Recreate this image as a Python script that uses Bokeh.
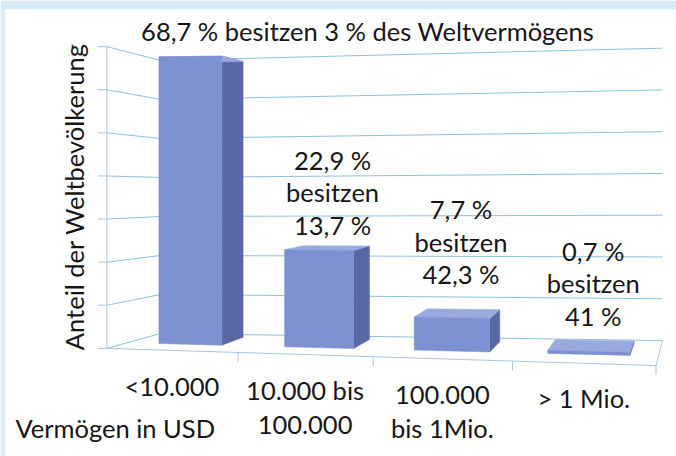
import math
from bokeh.plotting import figure
from bokeh.models import Range1d
from bokeh.core.properties import value
from bokeh.embed import file_html
from bokeh.resources import INLINE

# ---------------- data ----------------
categories = ["<10.000", "10.000 bis\n100.000", "100.000\nbis 1Mio.", "> 1 Mio."]
population_share = [68.7, 22.9, 7.7, 0.7]   # Anteil der Weltbevölkerung (%)
wealth_share = [3, 13.7, 42.3, 41]          # Anteil am Weltvermögen (%)
y_ticks = [0, 10, 20, 30, 40, 50, 60, 70]
y_axis_label = "Anteil der Weltbevölkerung"
x_axis_label = "Vermögen in USD"

# ---------------- styles / layout ----------------
FONT = "Lato"
FS = "25.5px"
TXT = "#161616"
FRONT_COL = "#7d90d1"
SIDE_COL = "#5968a5"
TOP_COL = "#9aa9de"
GRID_COL = "#8ec1dc"
FLOOR_COL = "#a9c6da"
BAND = "#d6ecf8"
LABEL_GAP_PX = [0, 7, 22, 12]   # distance of each data label above its bar

X_PER_PX = 1 / 128.0
Y_PER_PX = 1 / 4.31

# simple 3D (perspective-like) projection in data units:
# u = position across the floor (0..1), v = value, z = depth (0 front .. 1 back)
FRONT = dict(xl=-0.70, xr=3.59, b0=-0.2, b1=-4.2, s0=1.0, s1=1.07)
BACK = dict(xl=-0.28, xr=3.64, b0=3.25, b1=1.62, s0=0.905, s1=0.969)
WARP = 0.06   # right side is closer to the viewer -> slightly widening spacing


def plane(P, u, v):
    w = u - WARP * u * (1 - u)
    x = P["xl"] + (P["xr"] - P["xl"]) * w
    y = P["b0"] + (P["b1"] - P["b0"]) * u + v * (P["s0"] + (P["s1"] - P["s0"]) * u)
    return x, y


def proj(u, v, z):
    xf, yf = plane(FRONT, u, v)
    xb, yb = plane(BACK, u, v)
    return xf + (xb - xf) * z, yf + (yb - yf) * z


def de(x):
    return f"{x:g}".replace(".", ",")


p = figure(width=676, height=456, output_backend="svg", toolbar_location=None,
           x_range=Range1d(-1.492, 3.75), y_range=Range1d(-25.29, 78.42),
           x_axis_location=None, y_axis_location=None,
           min_border_left=5, min_border_top=9, min_border_right=0, min_border_bottom=0)
p.border_fill_color = BAND
p.background_fill_color = "white"
p.outline_line_color = None
p.xgrid.visible = False
p.ygrid.visible = False

vmax = y_ticks[-1]

# ---- walls & gridlines ----
side_xs, side_ys, back_xs, back_ys, tick_xs, tick_ys = [], [], [], [], [], []
for t in y_ticks:
    x0, y0 = proj(0, t, 0)
    x1, y1 = proj(0, t, 1)
    x2, y2 = proj(1, t, 1)
    side_xs.append([x0, x1]); side_ys.append([y0, y1])
    back_xs.append([x1, x2]); back_ys.append([y1, y2])
    tick_xs.append([x0 - 9 * X_PER_PX, x0]); tick_ys.append([y0, y0])
p.multi_line(side_xs, side_ys, line_color=GRID_COL, line_width=1)
p.multi_line(back_xs, back_ys, line_color=GRID_COL, line_width=1)
p.multi_line(tick_xs, tick_ys, line_color=FLOOR_COL, line_width=1)
ax0 = proj(0, 0, 0); ax1 = proj(0, vmax, 0)
p.line([ax0[0], ax1[0]], [ax0[1], ax1[1]], line_color=FLOOR_COL, line_width=1)

# floor
f0 = proj(0, 0, 0); f1 = proj(1, 0, 0); f2 = proj(1, 0, 1)
p.line([f0[0], f1[0], f2[0]], [f0[1], f1[1], f2[1]], line_color=FLOOR_COL, line_width=1)
n = len(categories)
fl_xs, fl_ys = [], []
for k in range(1, n + 1):
    fx, fy = proj(k / n, 0, 0)
    fl_xs.append([fx, fx]); fl_ys.append([fy, fy - 9 * Y_PER_PX])
p.multi_line(fl_xs, fl_ys, line_color=FLOOR_COL, line_width=1)

# ---- bars ----
z0, z1 = 0.38, 0.85
side_px, side_py, top_px, top_py, fr_px, fr_py = [], [], [], [], [], []
for i, v in enumerate(population_share):
    uc = (i + 0.5) / n
    hw = 0.06 + 0.016 * uc
    ul, ur = uc - hw, uc + hw
    s = [proj(ur, 0, z0), proj(ur, 0, z1), proj(ur, v, z1), proj(ur, v, z0)]
    t = [proj(ul, v, z0), proj(ur, v, z0), proj(ur, v, z1), proj(ul, v, z1)]
    f = [proj(ul, 0, z0), proj(ur, 0, z0), proj(ur, v, z0), proj(ul, v, z0)]
    side_px.append([q[0] for q in s]); side_py.append([q[1] for q in s])
    top_px.append([q[0] for q in t]); top_py.append([q[1] for q in t])
    fr_px.append([q[0] for q in f]); fr_py.append([q[1] for q in f])
p.patches(side_px, side_py, fill_color=SIDE_COL, line_color=SIDE_COL, line_width=0.5)
p.patches(top_px, top_py, fill_color=TOP_COL, line_color=TOP_COL, line_width=0.5)
p.patches(fr_px, fr_py, fill_color=FRONT_COL, line_color=FRONT_COL, line_width=0.5)

# ---- data labels ----
lx, ly, lt = [], [], []
for i in range(1, n):
    uc = (i + 0.5) / n
    x, y = proj(uc, population_share[i], 0.75)
    lx.append(x); ly.append(y + LABEL_GAP_PX[i] * Y_PER_PX)
    lt.append(f"{de(population_share[i])} %\nbesitzen\n{de(wealth_share[i])} %")
p.text(lx, ly, text=lt, text_font=value(FONT), text_font_size=FS, text_color=TXT,
       text_align="center", text_baseline="bottom", text_line_height=1.08)

# first bar's label sits at the top as headline
hx, _ = proj(0.46, 0, 0.5)
p.text([hx], [vmax + 3.5], text=[f"{de(population_share[0])} % besitzen {de(wealth_share[0])} % des Weltvermögens"],
       text_font=value(FONT), text_font_size=FS, text_color=TXT,
       text_align="center", text_baseline="middle")

# ---- category labels ----
cx, cy = [], []
for i in range(n):
    x, y = proj((i + 0.5) / n, 0, 0)
    cx.append(x); cy.append(y - 20 * Y_PER_PX)
p.text(cx, cy, text=categories, text_font=value(FONT), text_font_size=FS, text_color=TXT,
       text_align="center", text_baseline="top", text_line_height=1.13)

# ---- axis titles ----
p.text([ax0[0] - 33 * X_PER_PX], [vmax / 2], text=[y_axis_label], angle=math.pi / 2,
       text_font=value(FONT), text_font_size=FS, text_color=TXT,
       text_align="center", text_baseline="middle")
p.text([-1.492 + 10 * X_PER_PX], [ax0[1] - 80 * Y_PER_PX], text=[x_axis_label],
       text_font=value(FONT), text_font_size=FS, text_color=TXT,
       text_align="left", text_baseline="middle")

open("out.html", "w").write(file_html(p, INLINE))
